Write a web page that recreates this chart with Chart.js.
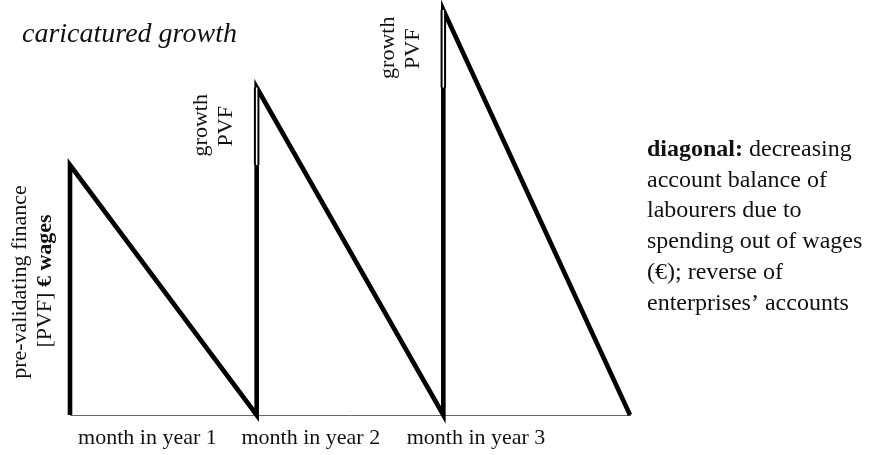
<!DOCTYPE html>
<html>
<head>
<meta charset="utf-8">
<script src="https://cdn.jsdelivr.net/npm/chart.js@4/dist/chart.umd.min.js"></script>
<style>
  html, body { margin: 0; padding: 0; background: #fff; }
  #wrap { position: relative; width: 879px; height: 455px; }
</style>
</head>
<body>
<div id="wrap"><canvas id="c" width="879" height="455"></canvas></div>
<script>
// ---- data ----
const monthLabels = ['month in year 1', 'month in year 2', 'month in year 3'];
const monthStart = [0, 1, 2];          // start of each month period
const wageLevel = [100, 131, 162];     // account balance right after wages are paid (PVF)
const previousLevel = [null, 100, 131]; // level of the previous period (growth PVF on top of it)

const titleText = 'caricatured growth';
const yTitleLines = ['pre-validating finance', ['[PVF] ', '€ wages']];
const growthLines = ['growth', 'PVF'];
const noteLines = [
  [['diagonal:', true], [' decreasing', false]],
  [['account balance of', false]],
  [['labourers due to', false]],
  [['spending out of wages', false]],
  [['(€); reverse of', false]],
  [['enterprises’ accounts', false]]
];

// ---- build series ----
const sawtooth = [];
monthStart.forEach((m, i) => {
  sawtooth.push({x: m, y: 0});
  sawtooth.push({x: m, y: wageLevel[i]});
});
sawtooth.push({x: monthStart[monthStart.length - 1] + 1, y: 0});

const growthSeg = [];
monthStart.forEach((m, i) => {
  if (previousLevel[i] === null) return;
  growthSeg.push({x: m, y: previousLevel[i]});
  growthSeg.push({x: m, y: wageLevel[i]});
  growthSeg.push({x: m + 0.5, y: null});
});

const SERIF = "'Liberation Serif', 'DejaVu Serif', serif";
const labelPos = [0.415, 1.29, 2.175];

const textPlugin = {
  id: 'texts',
  afterDraw(chart) {
    const ctx = chart.ctx;
    const xs = chart.scales.x, ys = chart.scales.y;
    ctx.save();
    ctx.fillStyle = '#111';
    // title
    ctx.font = 'italic 28px ' + SERIF;
    ctx.textAlign = 'left';
    ctx.textBaseline = 'alphabetic';
    ctx.fillText(titleText, 22, 42);

    function rotLine(parts, cx, cy, size) {
      ctx.save();
      ctx.translate(cx, cy);
      ctx.rotate(-Math.PI / 2);
      ctx.textBaseline = 'middle';
      ctx.textAlign = 'left';
      const segs = parts.map((p) => ({t: p[0], b: p[1]}));
      let total = 0;
      segs.forEach(s => { ctx.font = (s.b ? 'bold ' : '') + size + 'px ' + SERIF; s.w = ctx.measureText(s.t).width; total += s.w; });
      let x = -total / 2;
      segs.forEach(s => { ctx.font = (s.b ? 'bold ' : '') + size + 'px ' + SERIF; ctx.fillText(s.t, x, 0); x += s.w; });
      ctx.restore();
    }
    rotLine([[yTitleLines[0], false]], 20, 282, 22);
    rotLine([[yTitleLines[1][0], false], [yTitleLines[1][1], true]], 45, 281, 22);

    // growth labels next to each growth segment
    monthStart.forEach((m, i) => {
      if (previousLevel[i] === null) return;
      const px = xs.getPixelForValue(m);
      const py = (ys.getPixelForValue(previousLevel[i]) + ys.getPixelForValue(wageLevel[i])) / 2;
      rotLine([[growthLines[0], false]], px - 55, py - 1, 22);
      rotLine([[growthLines[1], false]], px - 30, py, 22);
    });

    // right note
    ctx.textBaseline = 'alphabetic';
    ctx.textAlign = 'left';
    noteLines.forEach((line, i) => {
      let x = 647;
      const y = 156 + i * 30.7;
      line.forEach(([t, b]) => {
        ctx.font = (b ? 'bold ' : '') + '24px ' + SERIF;
        ctx.fillText(t, x, y);
        x += ctx.measureText(t).width;
      });
    });
    ctx.restore();
  }
};

new Chart(document.getElementById('c'), {
  type: 'line',
  data: {
    datasets: [
      { data: growthSeg, borderColor: '#fff', borderWidth: 1.5, pointRadius: 0, tension: 0, clip: false, order: 0, spanGaps: false, borderCapStyle: 'butt' },
      { data: growthSeg, borderColor: '#000', borderWidth: 5.5, pointRadius: 0, tension: 0, clip: false, order: 1, spanGaps: false, borderCapStyle: 'butt' },
      { data: sawtooth, borderColor: '#000', borderWidth: 4.6, pointRadius: 0, tension: 0, clip: false, order: 2, borderJoinStyle: 'miter' }
    ]
  },
  options: {
    responsive: false,
    animation: false,
    events: [],
    layout: { padding: { left: 70, right: 249, top: 0, bottom: 0 } },
    plugins: { legend: { display: false }, tooltip: { enabled: false }, title: { display: false } },
    scales: {
      x: {
        type: 'linear', min: 0, max: 3,
        grid: { display: false, drawTicks: false },
        border: { display: true, color: '#666', width: 1, dash: [1, 1.5] },
        afterBuildTicks: (s) => { s.ticks = labelPos.map(v => ({value: v})); },
        afterFit: (s) => { s.height = 40; },
        ticks: {
          padding: 10,
          maxRotation: 0,
          autoSkip: false,
          color: '#111',
          font: { family: SERIF, size: 22 },
          callback: (v, i) => monthLabels[i]
        }
      },
      y: { type: 'linear', min: 0, max: 166, display: false }
    }
  },
  plugins: [textPlugin]
});
</script>
</body>
</html>
